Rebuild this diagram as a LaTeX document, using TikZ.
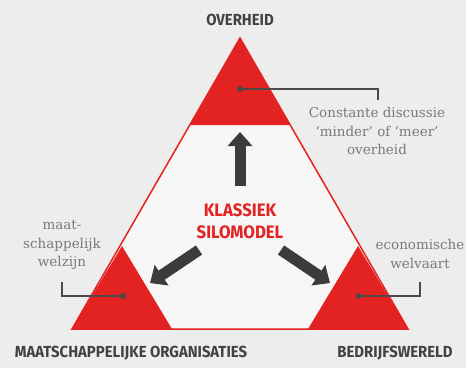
\documentclass[tikz,border=0pt]{standalone}
\usepackage{fontspec}
\setmainfont{DejaVu Serif}
\newfontfamily\labelfont[FakeStretch=0.93]{Fira Sans}
\usetikzlibrary{arrows.meta}
\definecolor{bgc}{HTML}{EDEDED}
\definecolor{innerc}{HTML}{F6F6F6}
\definecolor{silored}{HTML}{E32222}
\definecolor{darkarrow}{HTML}{3C3C3C}
\definecolor{notegray}{HTML}{7A7A7A}
\definecolor{labelgray}{HTML}{424242}
\definecolor{dotgray}{HTML}{4A4A4A}
\begin{document}
\begin{tikzpicture}[x=1pt,y=-1pt,
  dotnode/.style={circle,fill=dotgray,inner sep=0pt,minimum size=6pt},
  note/.style={font=\fontsize{13.5}{18.5}\selectfont,text=notegray,align=center,inner sep=0pt},
  caplabel/.style={font=\labelfont\bfseries\fontsize{16}{18}\selectfont,text=labelgray,inner sep=0pt},
  silolabel/.style={font=\labelfont\bfseries\fontsize{18}{22}\selectfont,text=silored,align=center,inner sep=0pt},
  bracket/.style={draw=dotgray,line width=1.4pt},
  bigarrow/.style={draw=darkarrow,line width=11pt,-{Triangle[width=24pt,length=14pt]}},
  redpart/.style={fill=silored}]
\fill[bgc] (0,0) rectangle (466,368);
\useasboundingbox (0,0) rectangle (466,368);
% main triangle
\coordinate (apex) at (240,38);
\coordinate (bl) at (72,329);
\coordinate (br) at (408,329);
\filldraw[fill=innerc,draw=silored,line width=1.5pt] (apex) -- (bl) -- (br) -- cycle;
% red corner triangles
\fill[redpart] (apex) -- (190,125) -- (290,125) -- cycle;
\fill[redpart] (122,246) -- (bl) -- (172,329) -- cycle;
\fill[redpart] (358,246) -- (308,329) -- (br) -- cycle;
% arrows
\coordinate (upA) at (240,186);
\coordinate (upB) at (240,132);
\coordinate (lA) at (199,250);
\coordinate (lB) at (150,283);
\coordinate (rA) at (281,250);
\coordinate (rB) at (330,283);
\draw[bigarrow] (upA) -- (upB);
\draw[bigarrow] (lA) -- (lB);
\draw[bigarrow] (rA) -- (rB);
% centre label
\node[silolabel] (silo) at (240,221) {KLASSIEK\\SILOMODEL};
% corner labels
\node[caplabel] (overheid) at (240,20) {OVERHEID};
\node[caplabel] (mo) at (131,353) {MAATSCHAPPELIJKE ORGANISATIES};
\node[caplabel] (bw) at (395,353) {BEDRIJFSWERELD};
% annotations
\node[dotnode] (dtop) at (240,89) {};
\coordinate (ctop) at (378,100);
\node[note] (ntop) at (377,131) {Constante discussie\\‘minder’ of ‘meer’\\overheid};
\draw[bracket] (dtop.center) -| (ctop);
\node[dotnode] (dleft) at (123,296) {};
\coordinate (cleft) at (62,282);
\node[note] (nleft) at (62,245) {maat-\\schappelijk\\welzijn};
\draw[bracket] (dleft.center) -| (cleft);
\node[dotnode] (dright) at (359,296) {};
\coordinate (cright) at (420,282);
\node[note] (nright) at (420,254) {economische\\welvaart};
\draw[bracket] (dright.center) -| (cright);
\end{tikzpicture}
\end{document}
